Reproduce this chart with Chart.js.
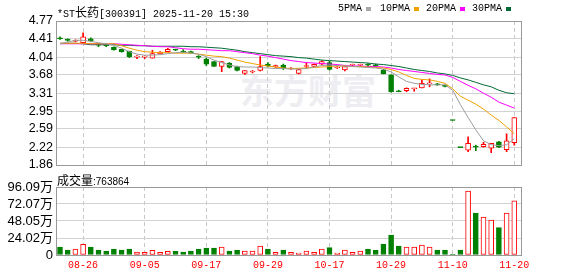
<!DOCTYPE html>
<html><head><meta charset="utf-8">
<script src="https://cdn.jsdelivr.net/npm/chart.js@4.4.1/dist/chart.umd.min.js"></script>
<style>
html,body{margin:0;padding:0;background:#fff;}
#wrap{position:relative;width:578px;height:276px;overflow:hidden;background:#fff;}
canvas{position:absolute;left:0;top:0;}
.txt{position:absolute;white-space:nowrap;color:#000;line-height:12px;}
.sq{position:absolute;width:5px;height:4px;}
</style></head><body>
<div id="wrap">
  <div class="txt" style="left:240px;top:70px;font:bold 34px 'Noto Sans CJK SC';line-height:40px;color:#eeeef2;">东方财富</div>
  <canvas id="pc" width="578" height="276"></canvas>
  <canvas id="vc" width="578" height="276"></canvas>
  <div class="txt" style="left:57px;top:3px;font:10px 'Liberation Mono';">*ST<span style="font:12px 'Noto Sans CJK SC';">长药</span>[300391] 2025-11-20 15:30</div>
  <div class="txt" style="left:338px;top:3px;font:10px 'Liberation Mono';">5PMA</div>
  <div class="sq" style="left:366px;top:7px;background:#a8a8a8;"></div>
  <div class="txt" style="left:380px;top:3px;font:10px 'Liberation Mono';">10PMA</div>
  <div class="sq" style="left:414px;top:7px;background:#f0a000;"></div>
  <div class="txt" style="left:426px;top:3px;font:10px 'Liberation Mono';">20PMA</div>
  <div class="sq" style="left:460px;top:7px;background:#ff00ff;"></div>
  <div class="txt" style="left:472px;top:3px;font:10px 'Liberation Mono';">30PMA</div>
  <div class="sq" style="left:506px;top:7px;background:#006a35;"></div>
  <div class="txt" style="left:57px;top:171px;"><span style="font:12px 'Noto Sans CJK SC';">成交量</span><span style="font:10px 'Liberation Sans';">:763864</span></div>
</div>
<script>
// ---------- data ----------
const dates = ['08-21','08-22','08-25','08-26','08-27','08-28','08-29','09-01','09-02','09-03',
 '09-04','09-05','09-08','09-09','09-10','09-11','09-12','09-15','09-16','09-17',
 '09-18','09-19','09-22','09-23','09-24','09-25','09-26','09-29','09-30','10-09',
 '10-10','10-13','10-14','10-15','10-16','10-17','10-20','10-21','10-22','10-23',
 '10-24','10-27','10-28','10-29','10-30','10-31','11-03','11-04','11-05','11-06',
 '11-07','11-10','11-11','11-12','11-13','11-14','11-17','11-18','11-19','11-20'];
const openP  = [4.43,4.39,4.36,4.33,4.41,4.30,4.28,4.24,4.20,4.16, 4.04,4.04,4.02,4.11,4.15,4.19,4.16,4.14,4.05,4.00,
                3.95,3.85,3.92,3.85,3.71,3.74,3.77,3.90,3.84,3.88, 3.80,3.71,3.85,3.85,3.90,3.93,3.82,3.78,3.875,3.875,
                3.885,3.88,3.78,3.68,3.34,3.36,3.40,3.42,3.50,3.50, 3.47,2.76,2.21,2.16,2.24,2.23,2.20,2.33,2.17,2.31];
const highP  = [4.45,4.41,4.39,4.53,4.43,4.32,4.29,4.25,4.20,4.16, 4.07,4.07,4.18,4.15,4.22,4.20,4.19,4.16,4.07,4.02,
                3.95,3.95,3.93,3.86,3.77,3.77,4.05,3.93,3.88,3.90, 3.83,3.80,3.92,3.90,3.97,3.96,3.85,3.86,3.90,3.90,
                3.91,3.90,3.79,3.68,3.37,3.42,3.405,3.58,3.60,3.51, 3.48,2.76,2.21,2.43,2.26,2.32,2.30,2.34,2.49,2.82];
const lowP   = [4.40,4.36,4.35,4.32,4.35,4.25,4.25,4.18,4.14,4.03, 4.01,4.01,4.02,4.10,4.14,4.17,4.13,4.12,4.01,3.87,
                3.85,3.745,3.82,3.76,3.69,3.72,3.76,3.84,3.83,3.79, 3.79,3.70,3.82,3.84,3.89,3.78,3.81,3.76,3.86,3.86,
                3.86,3.85,3.70,3.33,3.34,3.34,3.35,3.42,3.44,3.47, 3.44,2.76,2.21,2.13,2.15,2.22,2.11,2.21,2.13,2.26];
const closeP = [4.41,4.38,4.38,4.45,4.37,4.28,4.27,4.19,4.15,4.05, 4.045,4.045,4.11,4.14,4.20,4.18,4.14,4.13,4.04,3.90,
                3.85,3.95,3.83,3.77,3.77,3.75,3.85,3.86,3.87,3.81, 3.81,3.79,3.86,3.895,3.95,3.79,3.83,3.85,3.885,3.885,
                3.875,3.865,3.70,3.34,3.34,3.41,3.405,3.51,3.51,3.48, 3.45,2.76,2.21,2.30,2.22,2.28,2.30,2.22,2.35,2.82];
const ma5  = [4.31,4.34,4.38,4.38,4.36,4.33,4.31,4.28,4.22,4.15, 4.10,4.08,4.08,4.09,4.11,4.13,4.14,4.12,4.10,4.05,
              3.98,3.93,3.88,3.85,3.84,3.84,3.83,3.82,3.81,3.81, 3.80,3.80,3.81,3.84,3.87,3.88,3.87,3.86,3.85,3.84,
              3.83,3.82,3.80,3.74,3.64,3.55,3.51,3.49,3.48,3.48, 3.48,3.37,3.08,2.82,2.57,2.35,2.27,2.25,2.27,2.39];
const ma10 = [4.32,4.32,4.32,4.32,4.31,4.31,4.31,4.31,4.27,4.22, 4.18,4.15,4.14,4.13,4.13,4.12,4.12,4.12,4.10,4.08,
              4.06,4.05,4.02,3.98,3.94,3.91,3.88,3.86,3.84,3.82, 3.81,3.815,3.82,3.83,3.84,3.85,3.86,3.86,3.85,3.85,
              3.84,3.83,3.82,3.79,3.74,3.67,3.61,3.59,3.58,3.55, 3.51,3.40,3.25,3.17,3.09,2.99,2.87,2.76,2.63,2.49];
const ma20 = [4.31,4.31,4.31,4.31,4.31,4.31,4.31,4.31,4.30,4.29, 4.28,4.27,4.26,4.25,4.25,4.23,4.21,4.20,4.20,4.19,
              4.18,4.17,4.17,4.15,4.13,4.11,4.08,4.06,4.03,4.00, 3.97,3.95,3.93,3.92,3.91,3.90,3.89,3.87,3.86,3.86,
              3.85,3.85,3.84,3.82,3.79,3.77,3.75,3.73,3.71,3.69, 3.68,3.63,3.55,3.47,3.40,3.31,3.23,3.13,3.07,3.01];
const ma30 = [4.32,4.32,4.32,4.31,4.29,4.29,4.29,4.29,4.28,4.28, 4.27,4.27,4.26,4.26,4.26,4.26,4.26,4.25,4.25,4.24,
              4.23,4.22,4.20,4.18,4.15,4.13,4.11,4.09,4.07,4.06, 4.05,4.03,4.02,4.00,3.98,3.97,3.96,3.95,3.94,3.93,
              3.92,3.90,3.89,3.87,3.85,3.82,3.79,3.77,3.75,3.72, 3.70,3.67,3.62,3.58,3.53,3.48,3.44,3.37,3.32,3.30];
const volWan = [11.3,7.1,8.5,15.1,11.3,7.1,5.7,8.5,7.1,8.5, 4.2,3.8,6.6,3.8,5.2,5.2,4.2,5.7,8.5,9.9,
                9.9,11.3,5.7,7.1,5.7,5.7,12.7,8.5,3.8,7.1, 3.8,2.8,5.7,3.8,8.5,10.4,2.8,7.1,3.8,5.7,
                8.5,6.6,15.5,28.3,12.7,11.3,11.3,14.1,11.3,7.1, 7.1,1.4,7.1,90.4,59.3,53.7,49.5,38.6,59.3,76.39];
const priceTicks = [1.86,2.22,2.59,2.95,3.31,3.68,4.04,4.41,4.77];
const volTicks = [0,24.02,48.05,72.07,96.09];
const dateTickIdx = [3,11,19,27,35,43,51,59];

// ---------- styles ----------
const RED = '#ff0000', GREEN = '#008000';
const isUp = i => closeP[i] > openP[i] || (closeP[i] === openP[i] && i > 0 && closeP[i] > closeP[i-1]);
const XMIN = -0.52, XMAX = 60;

const boxPlugin = {
  id: 'box',
  afterDraw(chart) {
    const a = chart.chartArea, c = chart.ctx;
    c.save();
    c.strokeStyle = '#999'; c.lineWidth = 1; c.setLineDash([]);
    c.strokeRect(Math.round(a.left) + 0.5, Math.round(a.top) + 0.5, Math.round(a.right - a.left) - 1, Math.round(a.bottom - a.top));
    c.restore();
  }
};

const xScale = (showLabels) => ({
  type: 'linear', min: XMIN, max: XMAX, offset: false,
  afterBuildTicks: s => { s.ticks = dateTickIdx.map(v => ({ value: v })); },
  ticks: showLabels ? {
    display: true, autoSkip: false, maxRotation: 0, padding: 4,
    color: RED, font: { family: 'Liberation Mono', size: 10 },
    callback: v => dates[v]
  } : { display: false },
  grid: { color: '#c8c8c8', drawTicks: false, lineWidth: 1, offset: false },
  border: { display: false, dash: [4, 3] },
  afterFit: s => { s.height = showLabels ? 21 : 0; }
});

const line = (arr, color) => ({
  type: 'line', data: arr.map((v, i) => ({ x: i, y: v })),
  borderColor: color, borderWidth: 1, pointRadius: 0, tension: 0, order: 0
});

new Chart(document.getElementById('pc'), {
  type: 'bar',
  data: {
    datasets: [
      line(ma5, '#9c9c9c'),
      line(ma10, '#f0a000'),
      line(ma20, '#ff00ff'),
      line(ma30, '#006a35'),
      {
        data: openP.map((o, i) => ({ x: i, y: [o, closeP[i]] })),
        backgroundColor: c => isUp(c.dataIndex) ? '#ffffff' : GREEN,
        borderColor: c => isUp(c.dataIndex) ? RED : GREEN,
        borderWidth: 1, borderSkipped: false, barThickness: 5, minBarLength: 1,
        grouped: false, order: 1
      },
      {
        data: lowP.map((l, i) => ({ x: i, y: [l, highP[i]] })),
        backgroundColor: c => isUp(c.dataIndex) ? RED : GREEN,
        borderWidth: 0, barThickness: 1, grouped: false, order: 2
      }
    ]
  },
  options: {
    responsive: false, animation: false,
    layout: { padding: { top: 21, bottom: 111, left: 0, right: 56 } },
    plugins: { legend: { display: false }, tooltip: { enabled: false } },
    scales: {
      x: xScale(false),
      y: {
        min: 1.86, max: 4.77,
        afterBuildTicks: s => { s.ticks = priceTicks.map(v => ({ value: v })); },
        ticks: { color: '#000', padding: 3, autoSkip: false, font: { family: 'Liberation Sans', size: 12.5 }, callback: v => v.toFixed(2) },
        grid: { color: '#d2d2d2', drawTicks: false },
        border: { display: false },
        afterFit: s => { s.width = 56; }
      }
    }
  },
  plugins: [boxPlugin]
});

new Chart(document.getElementById('vc'), {
  type: 'bar',
  data: {
    datasets: [{
      data: volWan.map((v, i) => ({ x: i, y: v })),
      backgroundColor: c => isUp(c.dataIndex) ? '#ffffff' : GREEN,
      borderColor: c => isUp(c.dataIndex) ? RED : GREEN,
      borderWidth: 1, borderSkipped: false, barThickness: 5, grouped: false
    }]
  },
  options: {
    responsive: false, animation: false,
    layout: { padding: { top: 187, bottom: 0, left: 0, right: 56 } },
    plugins: { legend: { display: false }, tooltip: { enabled: false } },
    scales: {
      x: xScale(true),
      y: {
        min: 0, max: 96.09,
        afterBuildTicks: s => { s.ticks = volTicks.map(v => ({ value: v })); },
        ticks: { color: '#000', padding: 3, autoSkip: false, font: { family: "'Liberation Sans','Noto Sans CJK SC'", size: 13 },
                 callback: v => v === 0 ? '0' : v.toFixed(2) + '万' },
        grid: { color: '#d2d2d2', drawTicks: false },
        border: { display: false },
        afterFit: s => { s.width = 56; }
      }
    }
  },
  plugins: [boxPlugin]
});
</script>
</body></html>
